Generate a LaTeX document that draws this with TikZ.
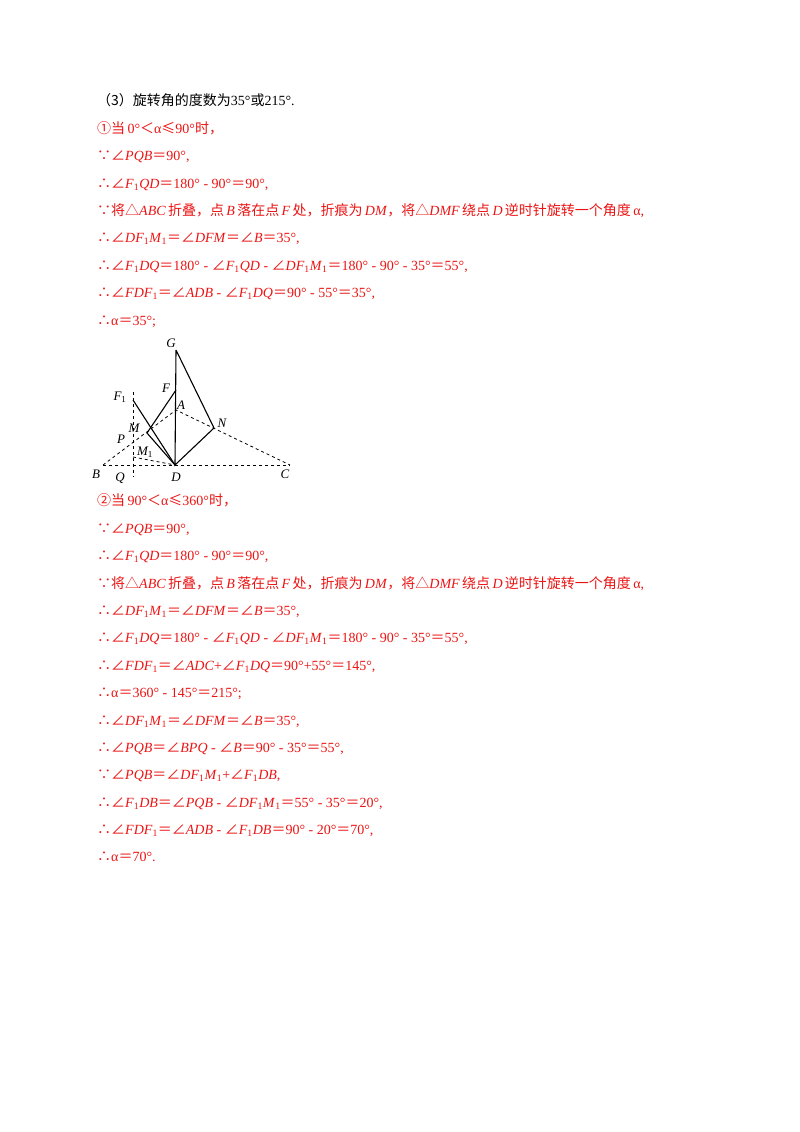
\documentclass[tikz,border=0pt]{standalone}
\usepackage{fontspec}
\setmainfont{Liberation Serif}
\newfontfamily\cjk{Noto Sans CJK SC}
\newcommand{\cj}[1]{{\cjk #1}}
\newcommand{\bc}{\cj{∵}}
\newcommand{\tf}{\cj{∴}}
\newcommand{\ang}{\cj{∠}}
\newcommand{\eq}{\cj{＝}}
\newcommand{\tri}{\cj{△}}
\newcommand{\mi}[1]{\textit{#1}}
\newcommand{\Fa}{\mi{F}\textsubscript{1}}
\newcommand{\Ma}{\mi{M}\textsubscript{1}}
\definecolor{rd}{RGB}{235,20,20}
\begin{document}
\begin{tikzpicture}[x=1pt,y=-1pt,
  tl/.style={anchor=base west,inner sep=0,font=\fontsize{14}{16}\selectfont,text=rd},
  lbl/.style={font=\fontsize{13}{14}\selectfont\itshape,inner sep=0},
  sol/.style={line width=1.1pt},
  dsh/.style={dashed,line width=0.8pt}]
\useasboundingbox (0,0) rectangle (800,1132);
\node[tl,text=black] (t0) at (97,105) {\cj{（3）旋转角的度数为}35°\cj{或}215°.};
\node[tl] (t1) at (97,133) {\cj{①当}\,0°\cj{＜}α\cj{≤}90°\cj{时，}};
\node[tl] (t2) at (97,160) {\bc\ang\mi{PQB}\eq90°,};
\node[tl] (t3) at (97,188) {\tf\ang\Fa\mi{QD}\eq180° - 90°\eq90°,};
\node[tl] (t4) at (97,215) {\bc\cj{将}\tri\mi{ABC}\,\cj{折叠，点}\,\mi{B}\,\cj{落在点}\,\mi{F}\,\cj{处，折痕为}\,\mi{DM}\cj{，将}\tri\mi{DMF}\,\cj{绕点}\,\mi{D}\,\cj{逆时针旋转一个角度}\,α,};
\node[tl] (t5) at (97,242) {\tf\ang\mi{D}\Fa\Ma\eq\ang\mi{DFM}\eq\ang\mi{B}\eq35°,};
\node[tl] (t6) at (97,270) {\tf\ang\Fa\mi{DQ}\eq180° - \ang\Fa\mi{QD} - \ang\mi{D}\Fa\Ma\eq180° - 90° - 35°\eq55°,};
\node[tl] (t7) at (97,297) {\tf\ang\mi{FD}\Fa\eq\ang\mi{ADB} - \ang\Fa\mi{DQ}\eq90° - 55°\eq35°,};
\node[tl] (t8) at (97,325) {\tf α\eq35°;};
% figure
\coordinate (B) at (103,465); \coordinate (D) at (175,465); \coordinate (C) at (290,465);
\coordinate (A) at (176,410); \coordinate (G) at (176,350); \coordinate (F) at (176,390);
\coordinate (N) at (214,428); \coordinate (M) at (147,433); \coordinate (F1) at (133,400);
\coordinate (M1) at (133,457); \coordinate (Vt) at (133,392); \coordinate (Vb) at (133,477);
\draw[dsh] (B) -- (C);
\draw[dsh] (B) -- (A) -- (C);
\draw[dsh] (Vt) -- (Vb);
\draw[dsh] (M1) -- (D);
\draw[sol] (G) -- (D) -- (N) -- (G);
\draw[sol] (F) -- (M) -- (D);
\draw[sol] (F1) -- (D);
\node[lbl] (lG) at (171,343) {G};
\node[lbl] (lF) at (166,388) {F};
\node[lbl] (lF1) at (120,397) {F\textsubscript{\upshape 1}};
\node[lbl] (lA) at (181,405) {A};
\node[lbl] (lN) at (222,423) {N};
\node[lbl] (lM) at (134,428) {M};
\node[lbl] (lP) at (121,439) {P};
\node[lbl] (lM1) at (145,452) {M\textsubscript{\upshape 1}};
\node[lbl] (lB) at (96,474) {B};
\node[lbl] (lQ) at (120,478) {Q};
\node[lbl] (lD) at (176,477) {D};
\node[lbl] (lC) at (285,474) {C};
% part 2
\node[tl] (u1) at (97,505) {\cj{②当}\,90°\cj{＜}α\cj{≤}360°\cj{时，}};
\node[tl] (u2) at (97,533) {\bc\ang\mi{PQB}\eq90°,};
\node[tl] (u3) at (97,560) {\tf\ang\Fa\mi{QD}\eq180° - 90°\eq90°,};
\node[tl] (u4) at (97,588) {\bc\cj{将}\tri\mi{ABC}\,\cj{折叠，点}\,\mi{B}\,\cj{落在点}\,\mi{F}\,\cj{处，折痕为}\,\mi{DM}\cj{，将}\tri\mi{DMF}\,\cj{绕点}\,\mi{D}\,\cj{逆时针旋转一个角度}\,α,};
\node[tl] (u5) at (97,615) {\tf\ang\mi{D}\Fa\Ma\eq\ang\mi{DFM}\eq\ang\mi{B}\eq35°,};
\node[tl] (u6) at (97,642) {\tf\ang\Fa\mi{DQ}\eq180° - \ang\Fa\mi{QD} - \ang\mi{D}\Fa\Ma\eq180° - 90° - 35°\eq55°,};
\node[tl] (u7) at (97,670) {\tf\ang\mi{FD}\Fa\eq\ang\mi{ADC}+\ang\Fa\mi{DQ}\eq90°+55°\eq145°,};
\node[tl] (u8) at (97,697) {\tf α\eq360° - 145°\eq215°;};
\node[tl] (u9) at (97,725) {\tf\ang\mi{D}\Fa\Ma\eq\ang\mi{DFM}\eq\ang\mi{B}\eq35°,};
\node[tl] (u10) at (97,752) {\tf\ang\mi{PQB}\eq\ang\mi{BPQ} - \ang\mi{B}\eq90° - 35°\eq55°,};
\node[tl] (u11) at (97,779) {\bc\ang\mi{PQB}\eq\ang\mi{D}\Fa\Ma+\ang\Fa\mi{DB},};
\node[tl] (u12) at (97,807) {\tf\ang\Fa\mi{DB}\eq\ang\mi{PQB} - \ang\mi{D}\Fa\Ma\eq55° - 35°\eq20°,};
\node[tl] (u13) at (97,834) {\tf\ang\mi{FD}\Fa\eq\ang\mi{ADB} - \ang\Fa\mi{DB}\eq90° - 20°\eq70°,};
\node[tl] (u14) at (97,861) {\tf α\eq70°.};
\end{tikzpicture}
\end{document}
